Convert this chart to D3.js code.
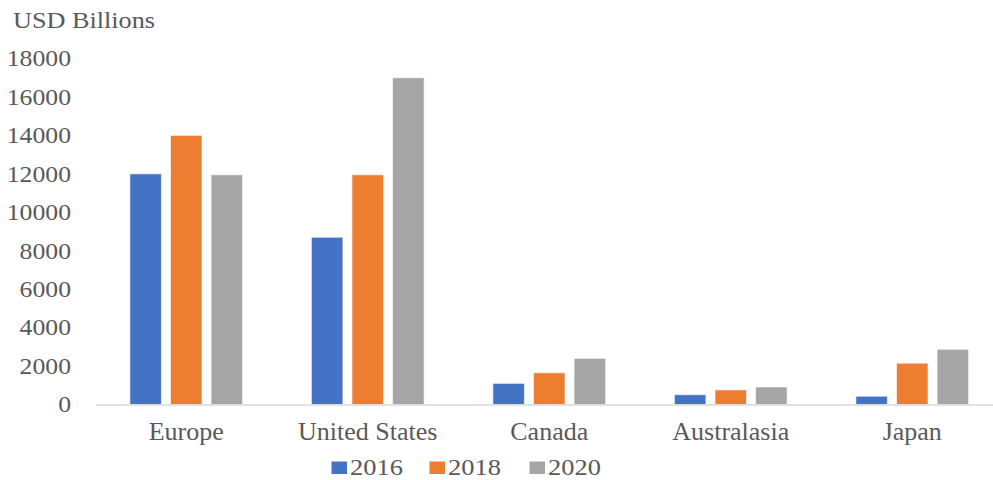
<!DOCTYPE html>
<html><head><meta charset="utf-8">
<script src="https://cdn.jsdelivr.net/npm/d3@7/dist/d3.min.js"></script>
<style>body{margin:0;background:#fff}svg{display:block}</style>
</head><body>
<svg id="chart" width="993" height="480"></svg>
<script>
const categories = ["Europe", "United States", "Canada", "Australasia", "Japan"];
const seriesNames = ["2016", "2018", "2020"];
const values2016 = [12000, 8700, 1100, 510, 430];
const values2018 = [14000, 11950, 1650, 760, 2150];
const values2020 = [11950, 17000, 2400, 910, 2870];
const yTicks = [0, 2000, 4000, 6000, 8000, 10000, 12000, 14000, 16000, 18000];
const colors = ["#4472C4", "#ED7D31", "#A5A5A5"];
const yTitle = "USD Billions";

const series = [values2016, values2018, values2020];
const svg = d3.select("#chart");
const font = "'Liberation Serif', 'Times New Roman', serif";
const textColor = "#595959";

const x0 = d3.scaleBand().domain(categories).range([95.5, 1003]).paddingInner(0.379).paddingOuter(0.1895);
const x1 = d3.scaleBand().domain(seriesNames).range([0, x0.bandwidth()]).paddingInner(0.224);
const y = d3.scaleLinear().domain([0, 18000]).range([404.5, 58.5]);

// bars
const groups = svg.append("g").selectAll("g").data(categories).join("g")
  .attr("transform", d => `translate(${x0(d)},0)`);
groups.selectAll("rect")
  .data((c, i) => seriesNames.map((s, j) => ({s, v: series[j][i], j})))
  .join("rect")
  .attr("x", d => x1(d.s))
  .attr("width", x1.bandwidth())
  .attr("y", d => y(d.v))
  .attr("height", d => y(0) - y(d.v))
  .attr("fill", d => colors[d.j])
  .attr("stroke", "#ffffff").attr("stroke-opacity", 0.6).attr("stroke-width", 1);

// x axis
const xAxis = svg.append("g").attr("transform", `translate(0,${y(0)})`)
  .call(d3.axisBottom(x0).tickSize(0).tickPadding(0).tickSizeOuter(0));
xAxis.select(".domain").attr("stroke", "#d9d9d9").attr("stroke-width", 1.5);
xAxis.selectAll("text").attr("dy", null).attr("y", 35.5)
  .attr("font-family", font).attr("font-size", 26).attr("fill", textColor);

// y axis labels
const yAxis = svg.append("g").attr("transform", "translate(71,0)")
  .call(d3.axisLeft(y).tickValues(yTicks).tickSize(0).tickPadding(0).tickFormat(d3.format("d")));
yAxis.select(".domain").remove();
yAxis.selectAll("text").attr("x", 0).attr("font-family", font).attr("font-size", 23)
  .attr("fill", textColor).attr("transform", "scale(1.12,1)");

// title
svg.append("text").attr("x", 13).attr("y", 27.7).text(yTitle)
  .attr("font-family", font).attr("font-size", 23).attr("fill", textColor)
  .attr("textLength", 142).attr("lengthAdjust", "spacingAndGlyphs");

// legend
const legX = [331.5, 429.5, 529.5];
const leg = svg.append("g").selectAll("g").data(seriesNames).join("g")
  .attr("transform", (d, i) => `translate(${legX[i]},0)`);
leg.append("rect").attr("x", 0).attr("y", 461.5).attr("width", 15.5).attr("height", 12.5)
  .attr("fill", (d, i) => colors[i]);
leg.append("text").attr("transform", "translate(18.5,475) scale(1.15,1)").text(d => d)
  .attr("font-family", font).attr("font-size", 23).attr("fill", textColor);
</script>
</body></html>
